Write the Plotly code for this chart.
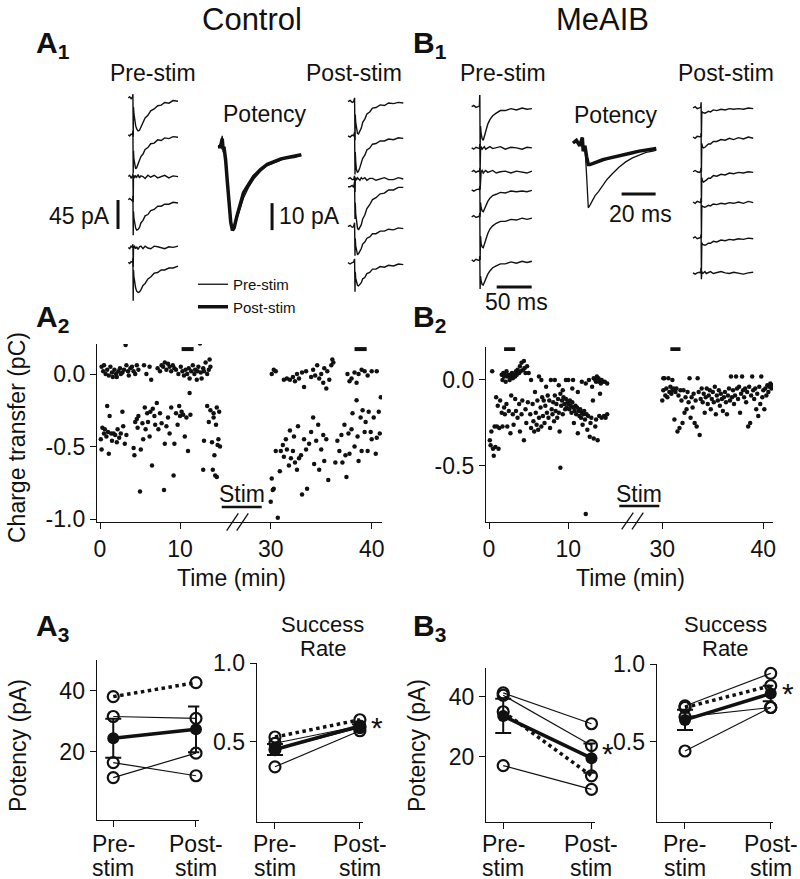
import plotly.graph_objects as go

W, H = 800, 879
FONT = "Liberation Sans, Arial, Helvetica, sans-serif"
INK = "#111111"
FS = 23

def fx(x): return x / W
def fy(y): return 1 - y / H
def xn(n): return "x" if n == 1 else f"x{n}"
def yn(n): return "y" if n == 1 else f"y{n}"

# ====================== DATA ======================
# ---- A1 example traces (time ms, current pA) ----
a1_pre_t = [0, 2, 4, 6, 6.6, 7, 7.4, 8, 9, 10.5, 12, 14, 16, 18, 21, 24, 28, 32, 37, 42, 47, 52, 58, 64, 71]
a1_pre_i = [
    [0, 2, -1, 1, 6, -60, -14, -24, -34, -43, -48, -51, -50, -45, -39, -31, -27, -20, -17, -12, -11, -7, -8, -4, -5],
    [0, -2, 1, 0, 6, -60, -25, -38, -48, -53, -51, -46, -41, -34, -30, -23, -20, -14, -13, -8, -9, -5, -6, -3, -4],
    [0, 2, -2, 1, 5, -40, -3, 2, -2, 1, -1, 3, -2, 1, 0, -3, 2, -1, 2, -2, 0, 2, -2, 1, 0],
    [0, 2, 0, -2, 6, -55, -18, -28, -38, -44, -47, -46, -43, -36, -32, -25, -23, -17, -15, -10, -10, -7, -7, -4, -5],
    [0, -2, 2, 0, 5, -30, -4, 1, 2, -2, 1, -3, 1, 2, -2, 2, -1, -2, 2, 1, -1, -2, 1, 0, 2],
    [0, -2, 1, 0, 6, -60, -12, -22, -32, -40, -45, -47, -46, -43, -36, -33, -26, -23, -17, -16, -12, -12, -9, -9, -6],
]
a1_pre_offset = [0, -57, -122, -158, -232, -255]

a1_post_t = [0, 3, 6, 8, 9.4, 10, 10.4, 11, 12, 13.5, 15, 17, 19, 21, 24, 27, 31, 35, 40, 46, 52, 58, 65, 72, 79]
a1_post_i = [
    [0, 2, -1, 0, 6, -60, -20, -32, -43, -49, -50, -46, -41, -32, -27, -19, -16, -10, -9, -5, -6, -2, -3, -1, -2],
    [0, -2, 1, 0, 6, -60, -25, -40, -52, -57, -55, -49, -43, -35, -30, -22, -19, -13, -12, -8, -8, -5, -6, -3, -4],
    [0, 2, -1, -1, 5, -20, -2, 2, -2, 2, 0, -2, 2, 0, 2, -2, 1, 1, -2, 0, 2, -1, -1, 2, 0],
    [0, 0, 2, -1, 8, -50, -25, -42, -56, -64, -67, -64, -59, -50, -44, -34, -28, -20, -17, -11, -10, -5, -5, -1, -1],
    [0, 2, -1, 0, 6, -45, -18, -30, -39, -43, -42, -38, -34, -27, -24, -18, -16, -11, -11, -7, -7, -4, -5, -2, -3],
    [0, -2, 0, 1, 6, -45, -14, -24, -31, -35, -36, -34, -31, -25, -23, -17, -15, -10, -10, -6, -7, -4, -5, -2, -3],
]
a1_post_offset = [0, -53, -120, -132, -194, -250]

a1_pot_t = [0, 1.5, 2.5, 3, 3.5, 4.5, 5.5, 6.5, 7.5, 8.5, 9.5, 11, 13, 15, 18, 21, 25, 29, 33, 37, 41, 45, 49]
a1_pot_pre = [0, 1, 4, -2, 0, -4, -12, -20, -27, -31, -30, -27, -23, -19, -15, -12, -9, -7, -6, -5, -4, -4, -3]
a1_pot_post = [0, 0, 3, -1, 0, -5, -13, -21, -28, -31, -30, -26, -21, -17, -14, -11, -8.5, -6.5, -5.5, -4.5, -4, -3.5, -3]

# ---- B1 example traces ----
b1_pre_t = [0, 3, 6, 9, 11, 11.6, 12, 12.6, 13.5, 15, 16.5, 18, 20, 23, 26, 30, 35, 41, 48, 56, 64, 72, 79, 86]
b1_pre_i = [
    [0, 2, -1, 0, 1, 23, -64, -30, -42, -50, -52, -46, -37, -27, -20, -14, -10, -6, -6, -3, -5, -2, -4, -3],
    [0, -2, 1, 0, -1, 6, -37, -4, 2, -2, 0, 2, -2, 0, 2, -1, 0, 2, -2, 1, 0, -2, 1, 0],
    [0, 2, -1, 1, 0, 6, -28, -3, 0, 2, -2, 0, 2, -1, 0, 2, -2, 0, 1, -2, 1, 0, -2, 1],
    [0, -2, 0, 1, 0, 6, -42, -20, -28, -33, -34, -30, -24, -18, -13, -9, -7, -4, -5, -2, -3, -2, -3, -1],
    [0, 2, -1, 0, 1, 6, -67, -30, -42, -47, -48, -42, -34, -26, -19, -14, -10, -7, -7, -4, -5, -2, -4, -2],
    [0, -2, 1, 0, -1, 6, -45, -25, -33, -38, -39, -35, -29, -22, -17, -12, -9, -6, -6, -3, -5, -2, -4, -2],
]
b1_pre_offset = [0, -64, -101, -129, -171, -238]

b1_post_t = [0, 3, 6, 9, 11, 11.6, 12, 12.6, 13.5, 15, 17, 19, 22, 25, 29, 34, 40, 46, 52, 58, 65, 72, 79, 86]
b1_post_i = [
    [0, 2, -1, 0, 1, 9, -45, -5, -7, -8, -8, -7, -5, -6, -3, -4, -2, -3, -1, -2, -1, -2, 0, -1],
    [0, -2, 1, 0, 0, 6, -54, -10, -15, -17, -16, -14, -11, -11, -7, -7, -4, -5, -2, -4, -1, -3, 0, -2],
    [0, 2, 0, -1, 1, 6, -47, -9, -14, -16, -15, -13, -10, -10, -6, -7, -4, -5, -2, -3, -1, -2, 0, -1],
    [0, -2, 1, 0, -1, 6, -56, -5, -7, -8, -8, -7, -5, -6, -3, -4, -2, -3, -1, -2, 0, -2, 1, -1],
    [0, 2, -1, 0, 1, 6, -54, -7, -10, -11, -11, -10, -8, -8, -5, -6, -3, -4, -2, -3, -1, -2, 0, -1],
    [0, -2, 0, 1, 0, 8, -10, 2, -1, 0, 2, -1, 0, 2, -1, 0, 2, 0, -1, 1, 0, -2, 0, 1],
]
b1_post_offset = [0, -45, -99, -146, -202, -256]

b1_pot_t = [0, 2, 4, 5.5, 6, 7, 8, 9, 10, 11.5, 13, 15, 17.5, 20, 23, 27, 31, 35, 39, 43, 47, 49]
b1_pot_pre = [0, 1, -1, 2, -3, -1, -12, -24, -23, -21, -19.5, -18, -15.5, -13.5, -11.5, -9, -7, -5.5, -4.5, -3.5, -3, -2.6]
b1_pot_post = [0, 1, -1, 2, -3, -1, -5, -8, -8, -7.6, -7.2, -6.8, -6.2, -5.8, -5.3, -4.8, -4.2, -3.6, -3.0, -2.5, -2.1, -2]

# scale bars
scale_pA_big = 45
scale_pA_small = 10
scale_ms_pot = 20
scale_ms_trace = 50

# ---- A2 charge transfer (min, pC) ----
a2_pre = [
    (0.2, 0.05), (0.4, 0.02), (0.5, 0.06), (0.7, 0.0), (0.9, 0.03), (1.1, -0.01), (1.3, 0.05), (1.5, 0.01),
    (1.6, -0.02), (1.8, 0.03), (2.0, 0.0), (2.1, -0.02), (2.3, 0.02), (2.5, 0.04), (2.6, 0.0), (2.8, 0.01),
    (3.0, 0.03), (3.2, 0.2), (3.3, 0.06), (3.5, 0.02), (3.6, -0.01), (3.8, 0.04), (4.0, 0.05), (4.2, 0.02),
    (4.4, 0.0), (4.6, 0.06), (4.8, 0.03), (5.5, 0.06), (5.8, 0.0), (6.2, 0.05), (6.4, -0.04), (7.2, 0.04),
    (7.5, 0.02), (7.7, 0.06), (7.9, 0.05), (8.1, 0.08), (8.3, 0.03), (8.5, 0.07), (8.7, 0.05), (8.9, 0.02),
    (9.1, 0.06), (9.3, 0.04), (9.5, 0.03), (9.8, 0.0), (10.1, 0.05), (10.3, 0.02), (10.5, -0.01), (10.7, 0.03),
    (10.9, 0.0), (11.1, 0.04), (11.2, -0.03), (11.4, 0.02), (11.6, 0.06), (11.8, 0.0), (11.9, 0.03), (12.1, -0.04),
    (12.2, 0.02), (12.3, 0.05), (12.5, 0.21), (12.6, 0.01), (12.7, -0.03), (12.9, 0.04), (13.0, 0.02), (13.2, 0.08),
    (13.4, 0.0), (13.6, 0.03), (13.7, 0.1), (13.8, 0.05),
    (0.1, -0.45), (0.2, -0.52), (0.3, -0.37), (0.5, -0.41), (0.6, -0.38), (0.8, -0.43), (0.9, -0.22), (1.0, -0.40),
    (1.1, -0.55), (1.2, -0.29), (1.4, -0.41), (1.5, -0.46), (1.7, -0.41), (1.9, -0.42), (2.1, -0.47), (2.2, -0.38),
    (2.4, -0.44), (2.6, -0.41), (2.8, -0.26), (2.9, -0.36), (3.1, -0.48), (3.3, -0.42),
    (4.2, -0.51), (4.3, -0.56), (4.4, -0.33), (4.6, -0.31), (4.7, -0.37), (4.8, -0.29), (5.0, -0.81), (5.1, -0.52),
    (5.3, -0.34), (5.4, -0.45), (5.6, -0.23), (5.7, -0.38), (5.9, -0.27), (6.0, -0.33), (6.2, -0.43), (6.3, -0.26),
    (6.5, -0.63), (6.6, -0.24), (6.8, -0.29), (6.9, -0.35), (7.1, -0.2), (7.3, -0.38), (7.5, -0.27), (7.7, -0.34),
    (8.0, -0.8), (8.1, -0.48), (8.3, -0.36), (8.5, -0.3), (8.7, -0.41), (8.9, -0.23), (9.2, -0.7), (9.3, -0.48),
    (9.5, -0.27), (9.7, -0.35), (9.9, -0.22), (10.0, -0.29), (10.2, -0.26), (10.4, -0.28), (10.6, -0.43),
    (10.8, -0.3), (11.0, -0.53), (11.2, -0.13), (11.3, -0.28),
    (12.9, -0.66), (13.0, -0.46), (13.4, -0.22), (13.6, -0.33), (13.8, -0.25), (14.0, -0.47), (14.1, -0.66),
    (14.2, -0.3), (14.3, -0.56), (14.4, -0.7), (14.5, -0.35), (14.6, -0.23), (14.7, -0.49), (14.8, -0.45),
    (14.9, -0.26), (15.0, -0.5), (14.6, -0.71), (14.2, -0.27),
]
a2_post = [
    (30.1, 0.0), (30.3, 0.03), (30.5, 0.02), (31.3, -0.04), (31.6, -0.03), (31.9, -0.04), (32.2, -0.02),
    (32.4, -0.05), (32.6, 0.0), (32.8, -0.03), (33.1, 0.01), (33.3, -0.09), (33.5, 0.02), (34.0, -0.02),
    (34.2, 0.03), (34.4, -0.01), (34.6, 0.06), (34.8, -0.03), (35.0, 0.0), (35.2, -0.06), (35.3, 0.04),
    (35.5, -0.1), (35.6, 0.02), (35.8, -0.04), (36.0, 0.06), (36.1, 0.1), (36.2, 0.08), (37.6, 0.0),
    (37.8, -0.05), (38.0, -0.03), (38.3, 0.01), (38.5, -0.06), (38.7, 0.0), (39.0, 0.03), (39.3, 0.02),
    (39.6, -0.01), (40.0, 0.02), (40.5, 0.02),
    (30.0, -0.88), (30.1, -0.72), (30.2, -0.8), (30.3, -0.79), (30.5, -0.53), (30.7, -0.99), (30.9, -0.67),
    (31.0, -0.53), (31.2, -0.49), (31.3, -0.57), (31.5, -0.45), (31.6, -0.52), (31.8, -0.63), (31.9, -0.39),
    (32.0, -0.58), (32.2, -0.53), (32.3, -0.43), (32.4, -0.61), (32.6, -0.66), (32.7, -0.36), (32.8, -0.58),
    (33.0, -0.56), (33.1, -0.83), (33.3, -0.45), (33.5, -0.52), (33.6, -0.79), (33.8, -0.48), (34.0, -0.4),
    (34.2, -0.3), (34.3, -0.62), (34.5, -0.46), (34.7, -0.35), (34.8, -0.66), (35.0, -0.52), (35.2, -0.42),
    (35.3, -0.6), (35.5, -0.45), (35.7, -0.73), (36.4, -0.61), (36.6, -0.46), (36.8, -0.53), (37.0, -0.42),
    (37.1, -0.61), (37.3, -0.35), (37.4, -0.56), (37.5, -0.71), (37.7, -0.41), (37.8, -0.55), (38.0, -0.38),
    (38.1, -0.27), (38.3, -0.5), (38.5, -0.18), (38.6, -0.43), (38.7, -0.6), (38.9, -0.3), (39.0, -0.53),
    (39.1, -0.25), (39.3, -0.4), (39.4, -0.33), (39.6, -0.53), (39.7, -0.26), (39.9, -0.4), (40.0, -0.45),
    (40.2, -0.3), (40.4, -0.55), (40.5, -0.44), (40.7, -0.26), (40.9, -0.16), (40.8, -0.41),
]
# ---- B2 charge transfer ----
b2_pre = [
    (0.1, -0.35), (0.2, -0.38), (0.3, -0.3), (0.4, 0.05), (0.5, -0.4), (0.6, -0.44), (0.7, -0.27), (0.8, -0.39),
    (0.9, -0.1), (1.0, -0.27), (1.1, -0.15), (1.2, -0.4), (1.3, -0.28), (1.4, -0.12),
    (1.6, 0.03), (1.7, 0.0), (1.8, 0.04), (1.9, 0.02), (2.0, 0.03), (2.1, -0.01), (2.2, 0.05), (2.3, 0.02),
    (2.5, 0.03), (2.6, 0.0), (2.7, 0.02), (2.9, 0.04), (3.0, 0.01), (3.1, 0.03), (3.3, 0.02), (3.4, 0.05),
    (3.5, 0.03), (3.6, 0.06), (3.8, 0.04), (3.9, 0.08), (4.0, 0.05), (4.1, 0.1), (4.3, 0.06), (4.4, 0.11),
    (4.5, 0.07), (4.6, 0.04), (4.8, 0.08), (5.0, 0.04),
    (1.6, -0.19), (1.7, -0.27), (1.9, -0.16), (2.0, -0.2), (2.2, -0.14), (2.3, -0.27), (2.5, -0.18), (2.7, -0.31),
    (2.8, -0.09), (3.0, -0.2), (3.1, -0.26), (3.3, -0.11), (3.4, -0.18), (3.6, -0.22), (3.8, -0.14), (3.9, -0.3),
    (4.1, -0.2), (4.2, -0.12), (4.4, -0.35), (4.6, -0.17), (4.7, -0.25), (4.9, -0.13),
    (5.3, 0.0), (5.8, -0.07), (6.3, 0.02), (6.6, 0.0), (7.2, -0.04), (7.8, 0.0), (8.3, 0.0), (8.8, -0.03),
    (9.3, -0.06), (9.7, 0.0),
    (5.2, -0.2), (5.3, -0.28), (5.5, -0.14), (5.6, -0.24), (5.7, -0.3), (5.9, -0.19), (6.0, -0.26), (6.1, -0.12),
    (6.2, -0.29), (6.3, -0.22), (6.5, -0.16), (6.6, -0.27), (6.7, -0.1), (6.8, -0.21), (6.9, -0.12), (7.0, -0.25),
    (7.1, -0.15), (7.3, -0.19), (7.4, -0.09), (7.5, -0.22), (7.6, -0.12), (7.7, -0.28), (7.9, -0.17), (8.0, -0.2),
    (8.1, -0.13), (8.2, -0.24), (8.3, -0.09), (8.4, -0.18), (8.5, -0.14), (8.6, -0.22), (8.7, -0.11), (8.8, -0.19),
    (8.9, -0.3), (9.0, -0.51), (9.0, -0.08), (9.1, -0.15), (9.2, -0.12), (9.3, -0.2), (9.4, -0.1), (9.5, -0.14),
    (9.6, -0.17), (9.7, -0.11), (9.8, -0.16), (9.9, -0.13),
    (10.0, -0.14), (10.1, -0.17), (10.2, -0.12), (10.3, -0.15), (10.4, -0.19), (10.5, -0.13), (10.6, -0.16),
    (10.7, -0.25), (10.8, -0.18), (10.9, -0.15), (11.0, -0.2), (11.1, -0.16), (11.2, -0.31), (11.3, -0.18),
    (11.4, -0.21), (11.5, -0.17), (11.6, -0.22), (11.7, -0.19), (11.8, -0.26), (11.9, -0.2), (12.0, -0.18),
    (12.1, -0.23), (12.2, -0.78), (12.3, -0.2), (12.4, -0.29), (12.5, -0.21), (12.7, -0.33), (12.8, -0.25),
    (12.9, -0.22), (13.1, -0.12), (13.2, -0.34), (13.4, -0.27), (13.5, -0.23), (13.7, -0.35), (13.9, -0.21),
    (14.0, -0.08), (14.2, -0.22), (14.5, -0.21), (14.7, -0.22), (14.9, -0.2),
    (10.0, 0.0), (10.5, -0.05), (10.6, 0.0), (11.2, -0.07), (11.7, -0.01), (12.2, -0.02), (12.6, 0.0),
    (13.0, -0.04), (13.2, 0.01), (13.4, 0.0), (13.5, -0.01), (13.6, 0.02), (13.7, 0.0), (13.8, 0.01),
    (13.9, -0.01), (14.0, 0.0), (14.1, -0.02), (14.2, 0.0), (14.3, -0.01), (14.6, -0.01), (14.9, -0.02),
]
b2_post = [
    (30.0, -0.12), (30.1, -0.06), (30.2, 0.01), (30.3, -0.09), (30.4, -0.05), (30.5, -0.1), (30.6, 0.01),
    (30.7, -0.07), (30.8, -0.04), (30.9, -0.08), (31.0, -0.06), (31.1, -0.05), (31.2, -0.23), (31.3, -0.07),
    (31.4, -0.05), (31.5, -0.3), (31.6, -0.09), (31.7, -0.28), (31.8, -0.06), (31.9, -0.12), (32.0, -0.25),
    (32.1, -0.06), (32.2, -0.19), (32.3, -0.1), (32.4, -0.17), (32.5, -0.07), (32.6, -0.13), (32.7, 0.01),
    (32.8, -0.22), (32.9, -0.1), (33.0, -0.16), (33.1, -0.08), (33.2, -0.25), (33.3, -0.12), (33.4, -0.27),
    (33.5, 0.01), (33.6, -0.07), (33.7, -0.32), (33.8, -0.11), (33.9, -0.05), (34.0, -0.13), (34.1, -0.08),
    (34.2, -0.19), (34.3, -0.1), (34.4, -0.05), (34.5, -0.14), (34.6, -0.09), (34.7, -0.06), (34.8, -0.17),
    (34.9, -0.11), (35.0, -0.07), (35.1, -0.13), (35.2, -0.04), (35.3, -0.2), (35.4, -0.09), (35.5, -0.12),
    (35.6, -0.06), (35.7, -0.15), (35.8, -0.08), (35.9, -0.11), (36.0, -0.18), (36.1, -0.1), (36.2, -0.07),
    (36.3, -0.13), (36.4, -0.2), (36.5, -0.09), (36.6, -0.05), (36.7, -0.12), (36.8, 0.02), (36.9, -0.1),
    (37.0, -0.06), (37.1, -0.14), (37.2, -0.09), (37.3, 0.02), (37.4, -0.05), (37.5, -0.11), (37.6, -0.04),
    (37.7, -0.19), (37.8, -0.08), (37.9, 0.02), (38.0, -0.06), (38.1, -0.1), (38.2, -0.05), (38.3, -0.13),
    (38.4, -0.07), (38.5, -0.27), (38.6, -0.04), (38.7, -0.25), (38.8, -0.09), (38.9, 0.02), (39.0, -0.06),
    (39.1, -0.11), (39.2, -0.05), (39.3, -0.17), (39.4, -0.08), (39.5, -0.21), (39.6, -0.04), (39.7, -0.14),
    (39.8, 0.02), (39.9, -0.1), (40.0, -0.06), (40.1, -0.17), (40.2, -0.05), (40.3, -0.09), (40.4, -0.03),
    (40.5, -0.07), (40.6, -0.04), (40.7, -0.02), (40.8, -0.05), (40.9, -0.03), (30.1, 0.01), (31.0, 0.0),
]
# analysis windows (min) and level (pC)
a2_windows = [(10.2, 11.7), (38.3, 39.5)]
b2_windows = [(1.9, 3.3), (30.8, 31.8)]
a2_window_level = 0.172
b2_window_level = 0.18

# ---- A3 / B3 summary (cells: first = example cell, dotted) ----
a3_pot_pre = [38.0, 31.5, 16.4, 11.5]
a3_pot_post = [42.6, 30.9, 12.1, 19.5]
a3_pot_mean = [24.4, 27.3]
a3_pot_sem = [6.4, 7.5]
a3_sr_pre = [0.53, 0.49, 0.45, 0.34]
a3_sr_post = [0.64, 0.60, 0.59, 0.57]
a3_sr_mean = [0.45, 0.60]
a3_sr_sem = [0.035, 0.012]

b3_pot_pre = [35.0, 41.3, 40.5, 17.0]
b3_pot_post = [13.6, 31.0, 23.7, 9.1]
b3_pot_mean = [33.6, 19.5]
b3_pot_sem = [5.7, 4.9]
b3_sr_pre = [0.72, 0.73, 0.66, 0.44]
b3_sr_post = [0.86, 0.94, 0.72, 0.72]
b3_sr_mean = [0.64, 0.81]
b3_sr_sem = [0.065, 0.05]

conditions = [0, 1]
cond_labels = [("Pre-", "stim"), ("Post-", "stim")]

# ====================== FIGURE ======================
fig = go.Figure()
layout = {}
shapes = []
annotations = []

def dom_x(l, r): return [fx(l), fx(r)]
def dom_y(t, b): return [fy(b), fy(t)]

def hidden_panel(n, box, x0px, xscale, y0px, yscale):
    l, r, t, b = box
    layout["xaxis" if n == 1 else f"xaxis{n}"] = dict(
        domain=dom_x(l, r), range=[(l - x0px) / xscale, (r - x0px) / xscale],
        visible=False, anchor=yn(n), fixedrange=True, automargin=False)
    layout["yaxis" if n == 1 else f"yaxis{n}"] = dict(
        domain=dom_y(t, b), range=[-(b - y0px) / yscale, (y0px - t) / yscale],
        visible=False, anchor=xn(n), fixedrange=True, automargin=False)

hidden_panel(1, (108, 186, 88, 306), 128.3, 0.7, 98, 0.644)
hidden_panel(2, (213, 306, 132, 242), 218, 1.7, 146.7, 2.7)
hidden_panel(3, (344, 410, 88, 300), 348, 0.7, 101.7, 0.644)
hidden_panel(4, (466, 540, 95, 295), 471.7, 0.7, 106.7, 0.644)
hidden_panel(5, (568, 662, 132, 215), 573, 1.7, 143, 2.7)
hidden_panel(6, (688, 760, 95, 285), 693, 0.7, 108, 0.644)

def add_stack(n, t, traces, offsets):
    for tr, off in zip(traces, offsets):
        fig.add_trace(go.Scatter(x=t, y=[v + off for v in tr], xaxis=xn(n), yaxis=yn(n),
                                 mode="lines", line=dict(color=INK, width=1.4),
                                 showlegend=False, hoverinfo="skip"))

add_stack(1, a1_pre_t, a1_pre_i, a1_pre_offset)
add_stack(3, a1_post_t, a1_post_i, a1_post_offset)
add_stack(4, b1_pre_t, b1_pre_i, b1_pre_offset)
add_stack(6, b1_post_t, b1_post_i, b1_post_offset)

fig.add_trace(go.Scatter(x=a1_pot_t, y=a1_pot_pre, xaxis="x2", yaxis="y2", mode="lines",
                         line=dict(color=INK, width=1.3), name="Pre-stim", showlegend=True, hoverinfo="skip"))
fig.add_trace(go.Scatter(x=a1_pot_t, y=a1_pot_post, xaxis="x2", yaxis="y2", mode="lines",
                         line=dict(color=INK, width=3.5), name="Post-stim", showlegend=True, hoverinfo="skip"))
fig.add_trace(go.Scatter(x=b1_pot_t, y=b1_pot_pre, xaxis="x5", yaxis="y5", mode="lines",
                         line=dict(color=INK, width=1.3), showlegend=False, hoverinfo="skip"))
fig.add_trace(go.Scatter(x=b1_pot_t, y=b1_pot_post, xaxis="x5", yaxis="y5", mode="lines",
                         line=dict(color=INK, width=3.5), showlegend=False, hoverinfo="skip"))

# scale bars drawn in the panels' own units
bar = dict(color=INK, width=3)
shapes.append(dict(type="line", xref="x", yref="y", x0=-14.7, x1=-14.7, y0=-158.4, y1=-158.4 - scale_pA_big, line=bar))
shapes.append(dict(type="line", xref="x2", yref="y2", x0=31.8, x1=31.8, y0=-20.9, y1=-20.9 - scale_pA_small, line=bar))
shapes.append(dict(type="line", xref="x5", yref="y5", x0=28.6, x1=28.6 + scale_ms_pot, y0=-18.9, y1=-18.9, line=bar))
shapes.append(dict(type="line", xref="x4", yref="y4", x0=35.7, x1=35.7 + scale_ms_trace, y0=-280, y1=-280, line=bar))

# ---- axes styling ----
axis_style = dict(showline=True, linecolor=INK, linewidth=1.3, ticks="outside", ticklen=6, tickwidth=1.3,
                  tickcolor=INK, showgrid=False, zeroline=False, fixedrange=True, automargin=False,
                  tickfont=dict(size=FS, family=FONT, color=INK))

layout["yaxis7"] = dict(axis_style, domain=dom_y(344, 522), range=[-1.02, 0.207], anchor="x7",
                        tickvals=[0, -0.5, -1.0], ticktext=["0.0", "-0.5", "-1.0"])
layout["xaxis7"] = dict(axis_style, domain=dom_x(97, 236), range=[-0.375, 17], anchor="y7", tickvals=[0, 10])
layout["xaxis8"] = dict(axis_style, domain=dom_x(236, 382), range=[26.56, 41.02], anchor="y7", tickvals=[30, 40])
layout["yaxis9"] = dict(axis_style, domain=dom_y(347.3, 522), range=[-0.826, 0.19], anchor="x9",
                        tickvals=[0, -0.5], ticktext=["0.0", "-0.5"])
layout["xaxis9"] = dict(axis_style, domain=dom_x(486, 632), range=[-0.38, 18.03], anchor="y9", tickvals=[0, 10])
layout["xaxis10"] = dict(axis_style, domain=dom_x(632, 773), range=[27.0, 40.96], anchor="y9", tickvals=[30, 40])

def scatter_pts(pts, xa, ya):
    fig.add_trace(go.Scatter(x=[p[0] for p in pts], y=[p[1] for p in pts], xaxis=xa, yaxis=ya,
                             mode="markers", marker=dict(color=INK, size=4.5),
                             showlegend=False, hoverinfo="skip"))

scatter_pts(a2_pre, "x7", "y7")
scatter_pts(a2_post, "x8", "y7")
scatter_pts(b2_pre, "x9", "y9")
scatter_pts(b2_post, "x10", "y9")

wbar = dict(color=INK, width=4)
for (w0, w1), xa in zip(a2_windows, ["x7", "x8"]):
    shapes.append(dict(type="line", xref=xa, yref="y7", x0=w0, x1=w1, y0=a2_window_level, y1=a2_window_level, line=wbar))
for (w0, w1), xa in zip(b2_windows, ["x9", "x10"]):
    shapes.append(dict(type="line", xref=xa, yref="y9", x0=w0, x1=w1, y0=b2_window_level, y1=b2_window_level, line=wbar))

# stim bars and axis breaks
for (x0, x1, y) in [(221.7, 261.7, 507), (619.3, 659.3, 506)]:
    shapes.append(dict(type="line", xref="paper", yref="paper", x0=fx(x0), x1=fx(x1), y0=fy(y), y1=fy(y),
                       line=dict(color=INK, width=2.5)))
for (xa, xb, yt, yb) in [(226.7, 238.3, 513.3, 530.7), (236.7, 248.3, 513.3, 530.7),
                         (621.7, 633.3, 512.7, 529.3), (632.0, 643.3, 512.7, 529.3)]:
    shapes.append(dict(type="line", xref="paper", yref="paper", x0=fx(xa), x1=fx(xb), y0=fy(yb), y1=fy(yt),
                       line=dict(color=INK, width=1.3)))

# ---- summary panels ----
def summary(n, dx, dy, xr, yr, tv, tt, pre, post, mean, sem):
    layout[f"xaxis{n}"] = dict(axis_style, domain=dx, range=xr, anchor=yn(n), tickvals=conditions,
                               showticklabels=False)
    layout[f"yaxis{n}"] = dict(axis_style, domain=dy, range=yr, anchor=xn(n), tickvals=tv, ticktext=tt)
    for k, (a, b) in enumerate(zip(pre, post)):
        dotted = (k == 0)
        fig.add_trace(go.Scatter(
            x=conditions, y=[a, b], xaxis=xn(n), yaxis=yn(n), mode="lines+markers", cliponaxis=False,
            line=dict(color=INK, width=3.5 if dotted else 1.2, dash="dot" if dotted else "solid"),
            marker=dict(symbol="circle-open", size=11, color=INK, line=dict(width=2.2)),
            showlegend=False, hoverinfo="skip"))
    fig.add_trace(go.Scatter(
        x=conditions, y=mean, xaxis=xn(n), yaxis=yn(n), mode="lines+markers", cliponaxis=False,
        line=dict(color=INK, width=3.5), marker=dict(symbol="circle", size=12, color=INK),
        error_y=dict(type="data", array=sem, color=INK, thickness=2, width=8),
        showlegend=False, hoverinfo="skip"))
    for c, (l1, l2) in zip(conditions, cond_labels):
        for t_, yy in [(l1, 843), (l2, 867)]:
            annotations.append(dict(text=t_, x=c, xref=xn(n), y=fy(yy), yref="paper", showarrow=False,
                                    xanchor="center", yanchor="middle", height=23, valign="middle",
                                    font=dict(size=FS, family=FONT, color=INK)))

summary(11, dom_x(96.7, 199.3), dom_y(660, 820), [-0.2, 1.04], [-2.4, 50], [20, 40], ["20", "40"],
        a3_pot_pre, a3_pot_post, a3_pot_mean, a3_pot_sem)
summary(12, dom_x(256.7, 363.3), dom_y(663.3, 821.7), [-0.215, 1.04], [-0.01, 1.0], [0.5, 1.0], ["0.5", "1.0"],
        a3_sr_pre, a3_sr_post, a3_sr_mean, a3_sr_sem)
summary(13, dom_x(486, 595), dom_y(668.3, 821.7), [-0.195, 1.04], [-1.7, 49.5], [20, 40], ["20", "40"],
        b3_pot_pre, b3_pot_post, b3_pot_mean, b3_pot_sem)
summary(14, dom_x(656.7, 773.3), dom_y(664, 821.7), [-0.33, 1.03], [-0.015, 1.0], [0.5, 1.0], ["0.5", "1.0"],
        b3_sr_pre, b3_sr_post, b3_sr_mean, b3_sr_sem)

# ---- text ----
def txt(text, x, y, size=FS, xanchor="center", yanchor="middle", angle=0, height=None):
    a = dict(text=text, x=fx(x), y=fy(y), xref="paper", yref="paper", showarrow=False,
             xanchor=xanchor, yanchor=yanchor, textangle=angle,
             font=dict(size=size, family=FONT, color=INK))
    if height is not None:
        a["height"] = height
        a["valign"] = "middle"
    annotations.append(a)

txt("Control", 252, 19, 31)
txt("MeAIB", 602, 19, 31)
panel_labels = [("A", "1", 34, 45), ("B", "1", 411, 45), ("A", "2", 34, 318), ("B", "2", 411, 318),
                ("A", "3", 34, 627), ("B", "3", 411, 627)]
for L, s, x, y in panel_labels:
    txt(f"<b>{L}<sub>{s}</sub></b>", x, y, 30, xanchor="left")

txt("Pre-stim", 153, 73); txt("Post-stim", 354, 73)
txt("Pre-stim", 503, 73); txt("Post-stim", 726, 73)
txt("Potency", 265, 114); txt("Potency", 616, 115)
txt("45 pA", 112, 216, xanchor="right")
txt("10 pA", 277, 216, xanchor="left")
txt("20 ms", 640, 214)
txt("50 ms", 516, 302)
txt("Charge transfer (pC)", 17, 438, angle=-90)
txt("Time (min)", 231, 578); txt("Time (min)", 630, 578)
txt("Stim", 241.7, 494); txt("Stim", 639, 494)
txt("Potency (pA)", 18, 746, angle=-90); txt("Potency (pA)", 417, 746, angle=-90)
txt("Success", 322.5, 624, 22, height=23); txt("Rate", 322.5, 648, 22, height=23)
txt("Success", 725, 624, 22, height=23); txt("Rate", 725, 648, 22, height=23)
txt("*", 377, 727, 30); txt("*", 608, 753, 30); txt("*", 788, 693, 30)

layout.update(dict(
    template="none",
    width=W, height=H, autosize=False, margin=dict(l=0, r=0, t=0, b=0, pad=0, autoexpand=False),
    paper_bgcolor="white", plot_bgcolor="rgba(0,0,0,0)",
    font=dict(family=FONT, color=INK),
    showlegend=True,
    legend=dict(x=fx(193), y=fy(268), xanchor="left", yanchor="top", bgcolor="rgba(0,0,0,0)",
                font=dict(size=15, family=FONT, color=INK), itemwidth=30, tracegroupgap=0),
    shapes=shapes, annotations=annotations,
))
fig.update_layout(**layout)
fig.write_html("out.html", config={"displayModeBar": False},
               post_script="document.body.style.margin='0px';document.body.style.overflow='hidden';")
